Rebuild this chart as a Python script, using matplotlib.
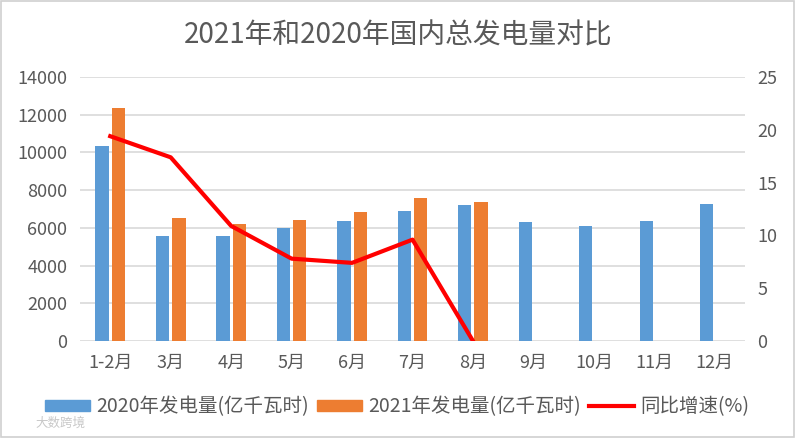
import matplotlib
matplotlib.use("Agg")
import matplotlib.pyplot as plt
from matplotlib.lines import Line2D
import numpy as np

plt.rcParams['font.family'] = ['Noto Sans CJK SC', 'DejaVu Sans']

months = ['1-2月', '3月', '4月', '5月', '6月', '7月', '8月', '9月', '10月', '11月', '12月']
gen_2020 = [10330, 5560, 5560, 6000, 6340, 6890, 7200, 6290, 6090, 6390, 7260]
gen_2021 = [12380, 6550, 6200, 6440, 6850, 7560, 7360]
growth = [19.4, 17.4, 10.9, 7.8, 7.4, 9.6, 0.0]

TXT = '#595959'
GRID = '#d9d9d9'

fig = plt.figure(figsize=(7.96, 4.38), dpi=100)
ax = fig.add_axes([0.1005, 0.2215, 0.8355, 0.6025])
ax2 = ax.twinx()

x = np.arange(len(months))
w = 0.22
off = 0.135
ax.bar(x - off, gen_2020, w, color='#5B9BD5', zorder=2)
ax.bar(x[:len(gen_2021)] + off, gen_2021, w, color='#ED7D31', zorder=2)
ax2.plot(x[:len(growth)], growth, color='#FF0000', lw=3.0, solid_joinstyle='round', zorder=3)

ax.set_xlim(-0.5, len(months) - 0.5)
ax.set_ylim(0, 14000)
ax.set_yticks(range(0, 14001, 2000))
ax2.set_ylim(0, 25)
ax2.set_yticks(range(0, 26, 5))
ax.set_xticks(x)
ax.set_xticklabels(months)

ax.grid(axis='y', color=GRID, lw=1.2, zorder=0)
ax.set_axisbelow(True)
for a in (ax, ax2):
    for s in a.spines.values():
        s.set_visible(False)
    a.tick_params(length=0, colors=TXT, labelsize=13)
ax.tick_params(axis='y', pad=9)
ax.tick_params(axis='x', pad=9)
ax2.tick_params(axis='y', pad=9)

fig.text(0.5, 1 - 35 / 438, '2021年和2020年国内总发电量对比', ha='center', va='center',
         fontsize=20, color=TXT)

handles = [plt.Rectangle((0, 0), 1, 1, color='#5B9BD5'),
           plt.Rectangle((0, 0), 1, 1, color='#ED7D31'),
           Line2D([0], [0], color='#FF0000', lw=3.0)]
labels = ['2020年发电量(亿千瓦时)', '2021年发电量(亿千瓦时)', '同比增速(%)']
leg = fig.legend(handles, labels, loc='center', bbox_to_anchor=(0.499, 1 - 407 / 438), ncol=3,
                 frameon=False, fontsize=14, handlelength=2.3, handleheight=0.5,
                 columnspacing=0.45, handletextpad=0.3)
for t in leg.get_texts():
    t.set_color(TXT)

fig.text(0.045, 1 - 423 / 438, '大数跨境', fontsize=9, color='#c8c8c8', va='center')

fig.patches.append(plt.Rectangle((0.001, 0.002), 0.997, 0.996, transform=fig.transFigure,
                                 fill=False, ec='#d0d0d0', lw=1.2))

fig.savefig('out.png', dpi=100)
